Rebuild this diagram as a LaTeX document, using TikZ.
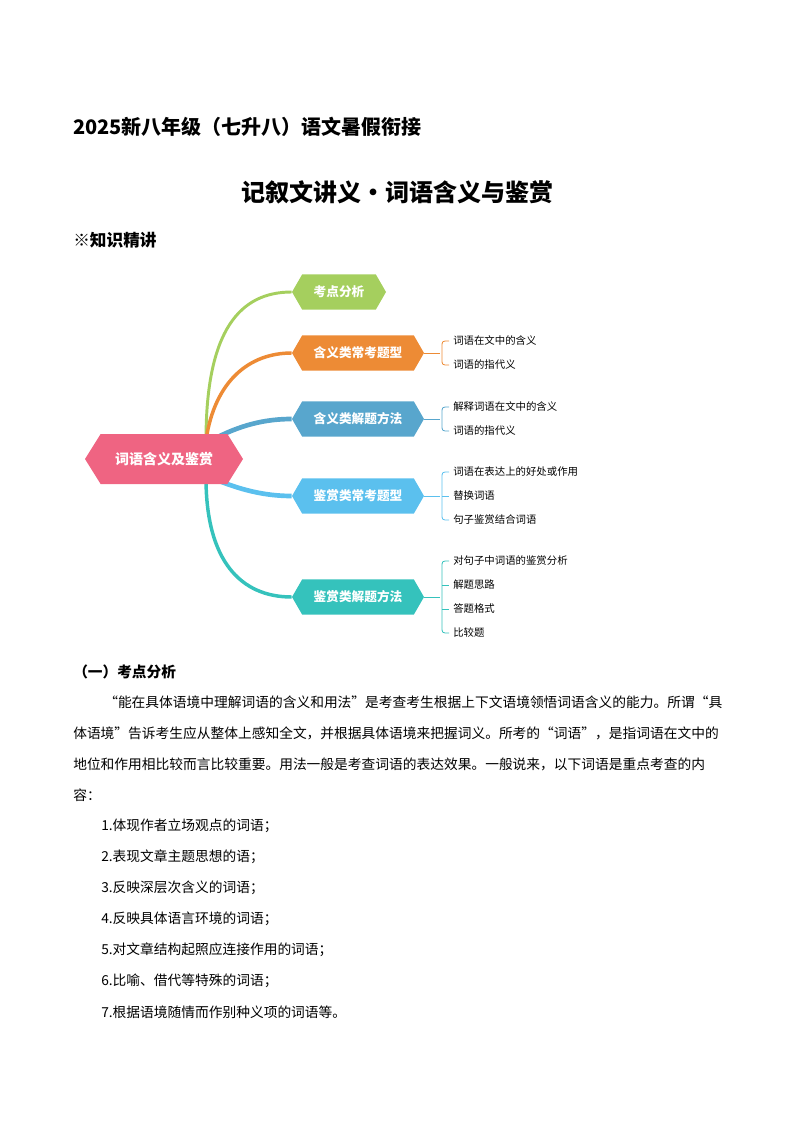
\documentclass[tikz,border=0pt]{standalone}
\usepackage{fontspec}
\setmainfont{Noto Sans CJK SC}
\usetikzlibrary{shapes.symbols}
\definecolor{cg}{HTML}{A5CF5E}
\definecolor{co}{HTML}{ED8B35}
\definecolor{cb}{HTML}{58A6CD}
\definecolor{cl}{HTML}{5BC0EE}
\definecolor{ct}{HTML}{35C2BC}
\definecolor{cp}{HTML}{EF6482}
\begin{document}
\begin{tikzpicture}[x=0.75pt,y=-0.75pt,
  hexbox/.style={signal, signal to=east and west, signal pointer angle=120, inner sep=0pt,
    text=white, font=\fontsize{9.5pt}{11pt}\selectfont\bfseries, minimum height=26.5pt, minimum width=99pt},
  leaf/.style={anchor=west, inner sep=0pt, font=\fontsize{7.8pt}{9pt}\selectfont},
  body/.style={anchor=west, inner sep=0pt, font=\fontsize{10.3pt}{12pt}\selectfont},
  br/.style={line width=0.6pt}]
\useasboundingbox (0,0) rectangle (794,1123);
\node[anchor=west,inner sep=0pt,font=\fontsize{15pt}{18pt}\selectfont\bfseries] (t1) at (73,127) {2025新八年级（七升八）语文暑假衔接};
\node[inner sep=0pt,font=\fontsize{18pt}{21pt}\selectfont\bfseries] (t2) at (397,192) {记叙文讲义·词语含义与鉴赏};
\node[anchor=west,inner sep=0pt,font=\fontsize{12.5pt}{15pt}\selectfont\bfseries] (t3) at (73,240) {※知识精讲};
\coordinate (ra) at (206,440);
\coordinate (rb) at (206,478);
\node[hexbox, fill=cg, minimum width=70.5pt] (g) at (339,292) {考点分析};
\node[hexbox, fill=co] (o) at (358,353) {含义类常考题型};
\node[hexbox, fill=cb] (b) at (358,419) {含义类解题方法};
\node[hexbox, fill=cl] (l) at (358,496) {鉴赏类常考题型};
\node[hexbox, fill=ct] (t) at (358,597) {鉴赏类解题方法};
\draw[cg, line width=2.2pt] (ra) .. controls (206,330) and (240,292) .. (g.west);
\draw[co, line width=2.6pt] (ra) .. controls (215,380) and (250,353) .. (o.west);
\draw[cb, line width=3.5pt] (212,440) .. controls (240,425) and (265,419) .. (b.west);
\draw[cl, line width=3.5pt] (212,478) .. controls (240,490) and (265,496) .. (l.west);
\draw[ct, line width=2.6pt] (rb) .. controls (206,560) and (240,597) .. (t.west);
\node[signal, signal to=east and west, signal pointer angle=116, inner sep=0pt, fill=cp, text=white,
  font=\fontsize{10.5pt}{12pt}\selectfont\bfseries, minimum width=118.5pt, minimum height=37.5pt] (root) at (164,459) {词语含义及鉴赏};
\node[leaf] (o1) at (453,341) {词语在文中的含义};
\node[leaf] (o2) at (453,365) {词语的指代义};
\node[leaf] (b1) at (453,407) {解释词语在文中的含义};
\node[leaf] (b2) at (453,431) {词语的指代义};
\node[leaf] (l1) at (453,472) {词语在表达上的好处或作用};
\node[leaf] (l2) at (453,496) {替换词语};
\node[leaf] (l3) at (453,520) {句子鉴赏结合词语};
\node[leaf] (t1a) at (453,561) {对句子中词语的鉴赏分析};
\node[leaf] (t2a) at (453,585) {解题思路};
\node[leaf] (t3a) at (453,609) {答题格式};
\node[leaf] (t4a) at (453,633) {比较题};
\draw[br, co] (o.east) -- (440,353);
\draw[br, co] (449,341) .. controls (442,341) .. (442,347) -- (442,359) .. controls (442,365) .. (449,365);
\draw[br, cb] (b.east) -- (440,419);
\draw[br, cb] (449,407) .. controls (442,407) .. (442,413) -- (442,425) .. controls (442,431) .. (449,431);
\draw[br, cl] (l.east) -- (440,496);
\draw[br, cl] (449,472) .. controls (442,472) .. (442,478) -- (442,514) .. controls (442,520) .. (449,520);
\draw[br, cl] (442,496) -- (449,496);
\draw[br, ct] (t.east) -- (440,597);
\draw[br, ct] (449,561) .. controls (442,561) .. (442,567) -- (442,627) .. controls (442,633) .. (449,633);
\draw[br, ct] (442,585) -- (449,585);
\draw[br, ct] (442,609) -- (449,609);
\node[anchor=west,inner sep=0pt,font=\fontsize{11pt}{13pt}\selectfont\bfseries] (s1) at (73,672) {（一）考点分析};
\node[body] (p1) at (104,702) {“能在具体语境中理解词语的含义和用法”是考查考生根据上下文语境领悟词语含义的能力。所谓“具};
\node[body] (p2) at (73,733) {体语境”告诉考生应从整体上感知全文，并根据具体语境来把握词义。所考的“词语”，是指词语在文中的};
\node[body] (p3) at (73,764) {地位和作用相比较而言比较重要。用法一般是考查词语的表达效果。一般说来，以下词语是重点考查的内};
\node[body] (p4) at (73,795) {容：};
\node[body] (i1) at (101,826) {1.体现作者立场观点的词语；};
\node[body] (i2) at (101,857) {2.表现文章主题思想的语；};
\node[body] (i3) at (101,888) {3.反映深层次含义的词语；};
\node[body] (i4) at (101,919) {4.反映具体语言环境的词语；};
\node[body] (i5) at (101,950) {5.对文章结构起照应连接作用的词语；};
\node[body] (i6) at (101,981) {6.比喻、借代等特殊的词语；};
\node[body] (i7) at (101,1012) {7.根据语境随情而作别种义项的词语等。};
\end{tikzpicture}
\end{document}
